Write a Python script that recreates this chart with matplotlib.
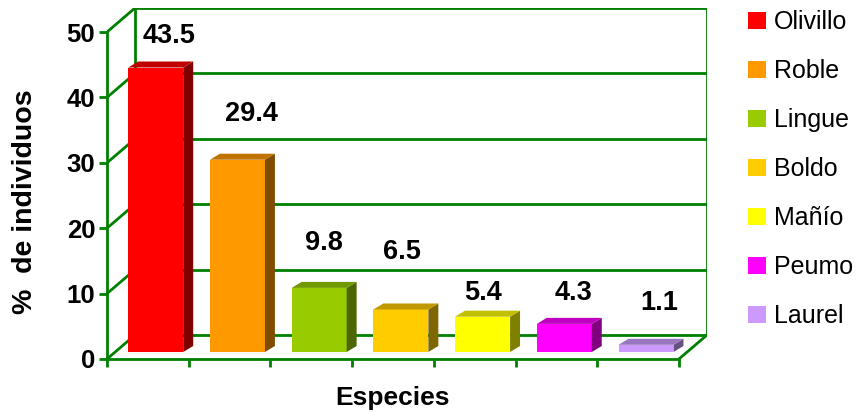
import matplotlib
matplotlib.use("Agg")
import matplotlib.pyplot as plt
from matplotlib.patches import Rectangle, Polygon

plt.rcParams['font.family'] = ['Liberation Sans', 'DejaVu Sans']

# datos
especies = ['Olivillo', 'Roble', 'Lingue', 'Boldo', 'Mañío', 'Peumo', 'Laurel']
porcentaje = [43.5, 29.4, 9.8, 6.5, 5.4, 4.3, 1.1]
y_ticks = [0, 10, 20, 30, 40, 50]

# colores: cara frontal, lateral y superior
frente = ['#FF0000', '#FF9900', '#99CC00', '#FFCC00', '#FFFF00', '#FF00FF', '#CC99FF']
lado = ['#800000', '#804C00', '#4C6600', '#806600', '#808000', '#800080', '#66507F']
techo = ['#C00000', '#C07300', '#739900', '#C09900', '#C0C000', '#C000C0', '#9977BF']
verde = '#008000'

# desplazamiento de etiquetas (px) respecto al centro superior de cada barra
etq_dx = [13, 14, 5, 1, 0, 9, 13]
etq_dy = [32, 46, 45, 57, 24, 31, 42]

n = len(especies)
DX, DY = 0.343, 3.67          # profundidad de la caja
bx, by = 0.10, 1.07           # barras dentro de la caja
inset, w = 0.16, 0.673        # margen y ancho de barra
ddx, ddy = 0.122, 0.92        # profundidad de cada barra
lw = 2.0

fig = plt.figure(figsize=(8.59, 4.12), dpi=100)
ax = fig.add_axes([107/859, 53/412, 600/859, 351/412])
ax.set_xlim(0, n + DX)
ax.set_ylim(0, 50 + DY)

# pared trasera y lateral
for v in y_ticks:
    ax.plot([DX, n + DX], [v + DY, v + DY], color=verde, lw=lw, zorder=1)
    ax.plot([0, DX], [v, v + DY], color=verde, lw=lw, zorder=1)
ax.plot([DX, DX], [DY, 50 + DY], color=verde, lw=lw, zorder=1)
ax.plot([n + DX, n + DX], [DY, 50 + DY], color=verde, lw=lw, zorder=1)
ax.plot([n, n + DX], [0, DY], color=verde, lw=lw, zorder=1)

# barras 3D
for i, v in enumerate(porcentaje):
    xl = i + inset + bx
    xr = xl + w
    ax.add_patch(Rectangle((xl, by), w, v, facecolor=frente[i], edgecolor='none', zorder=3))
    ax.add_patch(Polygon([(xr, by), (xr + ddx, by + ddy), (xr + ddx, by + ddy + v), (xr, by + v)],
                         closed=True, facecolor=lado[i], edgecolor='none', zorder=3))
    ax.add_patch(Polygon([(xl, by + v), (xl + ddx, by + v + ddy), (xr + ddx, by + v + ddy), (xr, by + v)],
                         closed=True, facecolor=techo[i], edgecolor='none', zorder=3))
    ax.annotate(f'{v:.1f}', xy=((xl + xr) / 2, by + v), xytext=(etq_dx[i] * 0.72, etq_dy[i] * 0.72),
                textcoords='offset points', ha='center', va='center',
                fontsize=19.5, fontweight='bold', zorder=4)

# ejes
for s in ['top', 'right']:
    ax.spines[s].set_visible(False)
for s in ['left', 'bottom']:
    ax.spines[s].set_color(verde)
    ax.spines[s].set_linewidth(lw)
ax.spines['left'].set_bounds(0, 50)
ax.spines['bottom'].set_bounds(0, n)
ax.set_yticks(y_ticks)
ax.set_yticklabels([str(t) for t in y_ticks], fontsize=18.5, fontweight='bold')
ax.set_xticks(range(n + 1))
ax.set_xticklabels([])
ax.tick_params(axis='both', colors=verde, width=lw, length=5.5, direction='out')
ax.tick_params(axis='y', labelcolor='black', pad=3)
ax.patch.set_visible(False)

ax.set_xlabel('Especies', fontsize=19, fontweight='bold', va='center')
ax.xaxis.set_label_coords(3.5 / (n + DX), -39 / 351)
ax.set_ylabel('%  de individuos', fontsize=20.5, fontweight='bold', va='center')
ax.yaxis.set_label_coords(-82 / 600, 157 / 351)

# leyenda
handles = [Rectangle((0, 0), 1, 1, facecolor=c, edgecolor='none') for c in frente]
fig.legend(handles, especies, loc='upper left', bbox_to_anchor=(748/859, 1 - 10/412),
           frameon=False, fontsize=18, handlelength=0.7, handleheight=0.7,
           handletextpad=0.35, labelspacing=1.0, borderaxespad=0, borderpad=0)

fig.savefig('out.png', dpi=100, facecolor='white')
